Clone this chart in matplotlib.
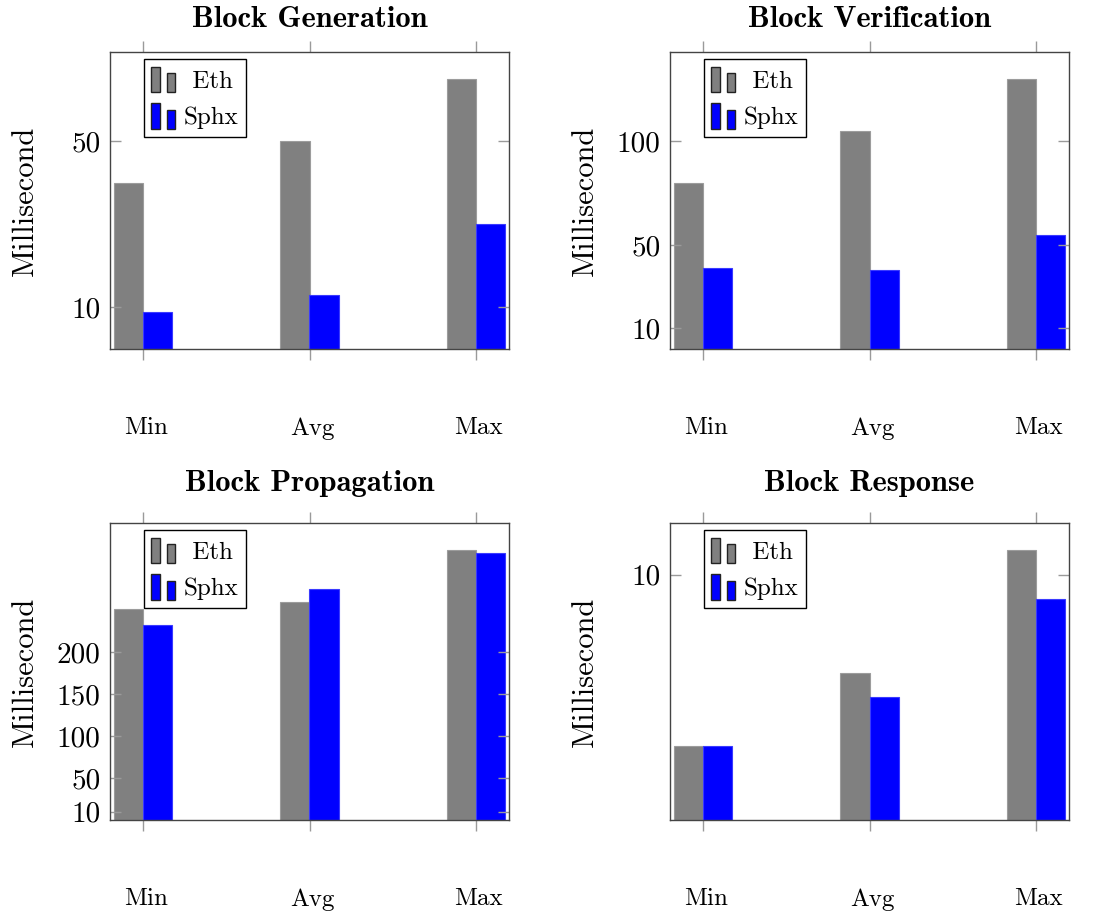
import matplotlib
matplotlib.use("Agg")
import matplotlib.pyplot as plt
import matplotlib.transforms as mtransforms
from matplotlib.legend_handler import HandlerBase
from matplotlib.patches import Rectangle, Patch

plt.rcParams['font.family'] = ['cmr10', 'DejaVu Serif']
plt.rcParams['mathtext.fontset'] = 'cm'
plt.rcParams['axes.formatter.use_mathtext'] = True

categories = ['Min', 'Avg', 'Max']
series_names = ['Eth', 'Sphx']
yticks = [10, 50, 100, 150, 200]

gen_eth = [40, 50, 65]
gen_sphx = [9, 13, 30]
ver_eth = [80, 105, 130]
ver_sphx = [39, 38, 55]
prop_eth = [252, 260, 322]
prop_sphx = [232, 276, 318]
resp_eth = [3, 6, 11]
resp_sphx = [3, 5, 9]

panels = [
    ('Block Generation', gen_eth, gen_sphx),
    ('Block Verification', ver_eth, ver_sphx),
    ('Block Propagation', prop_eth, prop_sphx),
    ('Block Response', resp_eth, resp_sphx),
]

ETH_COLOR = '#808080'
SPHX_COLOR = '#0000ff'


class BarIconHandler(HandlerBase):
    # pgfplots style ybar legend: two little bars
    def create_artists(self, legend, orig_handle, xdescent, ydescent,
                       width, height, fontsize, trans):
        fc = orig_handle.get_facecolor()
        w = width * 0.33
        r1 = Rectangle((-xdescent, -ydescent), w, height, facecolor=fc,
                       edgecolor='#222222', lw=1.0, transform=trans)
        r2 = Rectangle((-xdescent + width * 0.63, -ydescent), w, height * 0.74,
                       facecolor=fc, edgecolor='#222222', lw=1.0, transform=trans)
        return [r1, r2]


W, H = 1094, 913
fig = plt.figure(figsize=(W / 100, H / 100), dpi=100)

# axes boxes in pixels: left, top, right, bottom
boxes = [(110, 52, 509, 349), (670, 52, 1069, 349),
         (110, 523, 509, 820), (670, 523, 1069, 820)]
title_pads = [18, 18, 23, 23]

bar_w = 0.175
x = list(range(len(categories)))
shift = mtransforms.ScaledTranslation(3 / 100, 0, fig.dpi_scale_trans)

for (title, eth, sphx), (l, t, r, b), tpad in zip(panels, boxes, title_pads):
    ax = fig.add_axes([l / W, 1 - b / H, (r - l) / W, (b - t) / H])
    ax.bar([i - bar_w / 2 for i in x], eth, width=bar_w, color=ETH_COLOR,
           edgecolor='#9c9c9c', linewidth=0.8, label=series_names[0])
    ax.bar([i + bar_w / 2 for i in x], sphx, width=bar_w, color=SPHX_COLOR,
           edgecolor='#3a3aff', linewidth=0.8, label=series_names[1])

    ax.set_xlim(-0.2, 2.2)
    ax.set_xticks(x)
    ax.set_xticklabels(categories)
    ax.set_yticks(yticks)
    ax.set_yticklabels([str(v) for v in yticks])
    ax.set_ylim(0, max(eth + sphx) * 1.1)

    ax.tick_params(axis='x', direction='out', top=True, bottom=True,
                   length=8, width=1.0, color='#9a9a9a', labelsize=18, pad=41)
    ax.tick_params(axis='y', direction='in', left=True, right=True,
                   length=8, width=1.0, color='#9a9a9a', labelsize=21, pad=7)
    for lbl in ax.get_xticklabels():
        lbl.set_transform(lbl.get_transform() + shift)
    for sp in ax.spines.values():
        sp.set_color('#444444')
        sp.set_linewidth(1.0)

    ax.set_ylabel('Millisecond', fontsize=22)
    ax.yaxis.set_label_coords(-0.178, 0.5)
    ax.set_title(title, fontfamily='cmb10', fontsize=22, pad=tpad)

    handles = [Patch(facecolor=ETH_COLOR), Patch(facecolor=SPHX_COLOR)]
    leg = ax.legend(handles, series_names, loc='upper left',
                    bbox_to_anchor=(0.085, 0.976), borderaxespad=0,
                    fontsize=18, handlelength=1.0, handleheight=1.2,
                    handletextpad=0.3, labelspacing=0.4, borderpad=0.3,
                    fancybox=False, framealpha=1, edgecolor='black',
                    handler_map={Patch: BarIconHandler()})
    leg.get_frame().set_linewidth(1.0)
    # pgfplots centres the legend texts
    leg.get_texts()[0].set_text(' ' + series_names[0])

fig.savefig('out.png', dpi=100)
